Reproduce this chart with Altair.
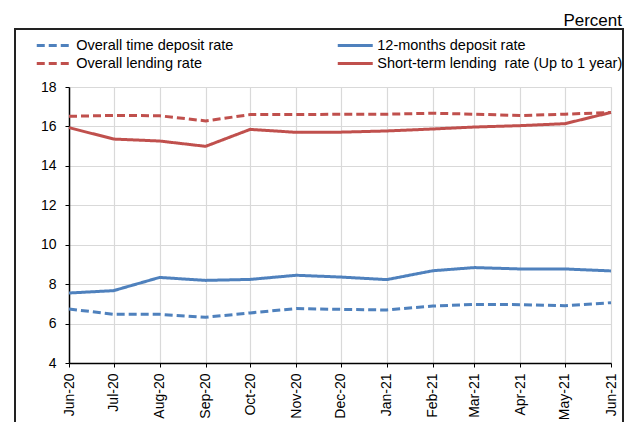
import altair as alt
import pandas as pd

months = ["2020-06-01", "2020-07-01", "2020-08-01", "2020-09-01", "2020-10-01",
          "2020-11-01", "2020-12-01", "2021-01-01", "2021-02-01", "2021-03-01",
          "2021-04-01", "2021-05-01", "2021-06-01"]

overall_time_deposit = [6.74, 6.47, 6.47, 6.32, 6.54, 6.76, 6.72, 6.69, 6.89, 6.97, 6.96, 6.91, 7.06]
twelve_month_deposit = [7.55, 7.67, 8.34, 8.19, 8.24, 8.45, 8.36, 8.23, 8.68, 8.84, 8.77, 8.77, 8.67]
overall_lending = [16.51, 16.56, 16.54, 16.28, 16.60, 16.60, 16.62, 16.62, 16.67, 16.62, 16.55, 16.62, 16.71]
short_term_lending = [15.94, 15.36, 15.26, 14.99, 15.85, 15.70, 15.71, 15.77, 15.87, 15.97, 16.04, 16.14, 16.71]

# legend order (column-major fill): col 1 dashed, col 2 solid
series_names = ["Overall time deposit rate", "Overall lending rate",
                "12-months deposit rate", "Short-term lending\u00a0 rate (Up to 1 year)"]
series_values = [overall_time_deposit, overall_lending, twelve_month_deposit, short_term_lending]
colors = ["#4F81BD", "#C0504D", "#4F81BD", "#C0504D"]
dashes = [[8, 4], [8, 4], [1, 0], [1, 0]]

rows = []
for name, vals in zip(series_names, series_values):
    for m, v in zip(months, vals):
        rows.append({"month": m, "rate": v, "series": name})
df = pd.DataFrame(rows)

FONT = "Liberation Sans"

tick_values = [alt.DateTime(year=int(m[:4]), month=int(m[5:7]), date=1, utc=True) for m in months]

lines = alt.Chart(df).mark_line(strokeWidth=3).encode(
    x=alt.X("month:T",
            scale=alt.Scale(type="utc", nice=False,
                            domain=[alt.DateTime(year=2020, month=6, date=1, utc=True),
                                    alt.DateTime(year=2021, month=6, date=1, utc=True)]),
            axis=alt.Axis(title=None, values=tick_values, format="%b-%y", labelAngle=-90,
                          labelFont=FONT, labelFontSize=14, labelColor="#000000",
                          domainColor="#000000", domainWidth=1.5, tickColor="#000000",
                          tickSize=4, labelPadding=6, gridColor="#d9d9d9", gridWidth=1.2,
                          labelOverlap=False, labelFlush=False)),
    y=alt.Y("rate:Q",
            scale=alt.Scale(domain=[4, 18], nice=False, zero=False),
            axis=alt.Axis(title=None, values=list(range(4, 19, 2)),
                          labelFont=FONT, labelFontSize=14, labelColor="#000000",
                          domainColor="#000000", domainWidth=1.5, tickColor="#000000",
                          tickSize=4, labelPadding=9, gridColor="#d9d9d9", gridWidth=1.2)),
    color=alt.Color("series:N",
                    scale=alt.Scale(domain=series_names, range=colors),
                    legend=alt.Legend(title=None, orient="none", legendX=-25.25, legendY=-52,
                                      columns=2, columnPadding=98, rowPadding=1,
                                      symbolType="M-2,0H2", symbolSize=306.25,
                                      symbolStrokeWidth=3, labelOffset=11.5,
                                      labelFont=FONT, labelFontSize=14.5, labelColor="#000000",
                                      labelLimit=400)),
    strokeDash=alt.StrokeDash("series:N",
                              scale=alt.Scale(domain=series_names, range=dashes),
                              legend=None),
    order=alt.Order("month:T"),
    detail="series:N",
)

one = pd.DataFrame({"k": [0]})

frame = alt.Chart(one).mark_rect(fill=None, stroke="#222222", strokeWidth=2).encode(
    x=alt.value(-54), x2=alt.value(554), y=alt.value(-58), y2=alt.value(400)
)

percent = alt.Chart(one).mark_text(align="right", baseline="alphabetic",
                                   font=FONT, fontSize=17, color="#000000").encode(
    x=alt.value(553), y=alt.value(-61), text=alt.value("Percent")
)

chart = alt.layer(frame, lines, percent).properties(
    width=542, height=276,
    autosize=alt.AutoSizeParams(type="none"),
    padding={"left": 61, "top": 79, "right": 15, "bottom": 59},
).configure_view(stroke=None).configure(background="#ffffff")

chart.save("out.html", embed_options={"renderer": "svg", "actions": False})
